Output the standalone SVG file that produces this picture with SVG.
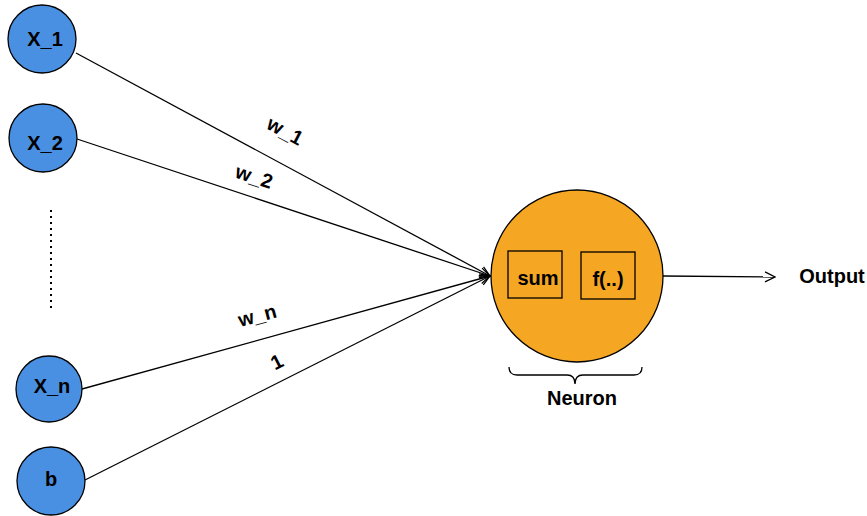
<svg xmlns="http://www.w3.org/2000/svg" width="867" height="516" viewBox="0 0 867 516">
<defs>
<style>
.in{fill:#4A90E2;stroke:#000;stroke-width:1.3}
.t{font-family:"Liberation Sans",Arial,sans-serif;font-weight:bold;font-size:20px;fill:#000;text-anchor:middle}
.e{stroke:#000;stroke-width:1.3;fill:none}
.box{fill:none;stroke:#000;stroke-width:1.3}
</style>
<marker id="ar" viewBox="0 0 12 12" refX="11" refY="6" markerWidth="12" markerHeight="12" markerUnits="userSpaceOnUse" orient="auto">
<path d="M1,1 L11,6 L1,11" fill="none" stroke="#000" stroke-width="1.3"/>
</marker>
</defs>
<rect width="867" height="516" fill="#fff"/>
<g id="connectors">
<line class="e" x1="76" y1="53" x2="490" y2="276" marker-end="url(#ar)"/>
<line class="e" x1="77" y1="139" x2="490" y2="276" marker-end="url(#ar)"/>
<line class="e" x1="82" y1="389" x2="490" y2="276" marker-end="url(#ar)"/>
<line class="e" x1="85" y1="480" x2="490" y2="276" marker-end="url(#ar)"/>
<line class="e" x1="663" y1="276" x2="775" y2="277" marker-end="url(#ar)"/>
<text class="t" transform="translate(282,137) rotate(28)">w_1</text>
<text class="t" transform="translate(252,183) rotate(18)">w_2</text>
<text class="t" transform="translate(259,322) rotate(-15)">w_n</text>
<text class="t" transform="translate(280,368) rotate(-27)">1</text>
</g>
<g id="x1"><circle class="in" cx="42" cy="39" r="34"/><text class="t" x="45" y="46">X_1</text></g>
<g id="x2"><circle class="in" cx="43" cy="138" r="34"/><text class="t" x="45" y="150">X_2</text></g>
<g id="dots"><line x1="51" y1="210" x2="51" y2="308" stroke="#000" stroke-width="2" stroke-dasharray="2,4"/></g>
<g id="xn"><circle class="in" cx="49" cy="389" r="33"/><text class="t" x="52" y="393">X_n</text></g>
<g id="b"><circle class="in" cx="51" cy="481" r="34"/><text class="t" x="51" y="486">b</text></g>
<g id="neuron">
<circle cx="577" cy="276" r="86" fill="#F5A623" stroke="#000" stroke-width="1.3"/>
<rect class="box" x="508" y="251" width="54" height="47"/>
<text class="t" x="538" y="285">sum</text>
<rect class="box" x="581" y="252" width="54" height="47"/>
<text class="t" x="608" y="286">f(..)</text>
<path d="M509,367 Q509,375 517,375 L567,375 Q575,375 575,384 Q575,375 583,375 L634,375 Q642,375 642,367" fill="none" stroke="#000" stroke-width="1.3"/>
<text class="t" x="582" y="405">Neuron</text>
</g>
<g id="output"><text class="t" x="832" y="283">Output</text></g>
</svg>
